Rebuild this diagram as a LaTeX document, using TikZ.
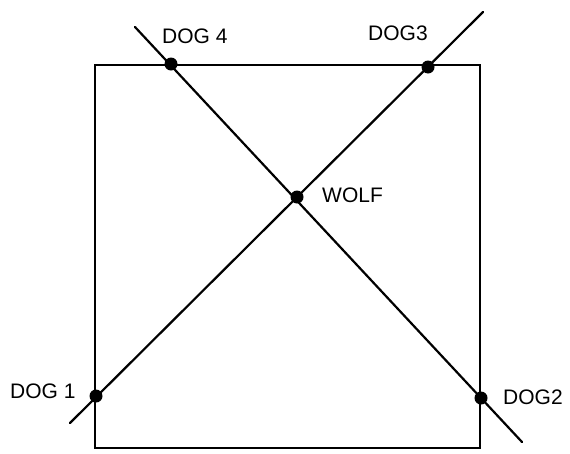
\documentclass[tikz,border=0pt]{standalone}
\usepackage{fontspec}
\setmainfont{Liberation Sans}
\begin{document}
\begin{tikzpicture}[x=1pt,y=-1pt,
  dot/.style={circle,fill=black,inner sep=0pt,minimum size=13pt},
  lbl/.style={font=\fontsize{21}{25}\selectfont,inner sep=0pt},
  edge/.style={line width=2.2pt,line cap=round},
  frame/.style={line width=2pt}]
\useasboundingbox (0,0) rectangle (570,453);
% square
\coordinate (tl) at (95,65);
\coordinate (br) at (480,448);
\draw[frame] (tl) rectangle (br);
% diagonal line ends
\coordinate (a1) at (135,27);
\coordinate (a2) at (522,442);
\coordinate (b1) at (70,423);
\coordinate (b2) at (483,12);
\draw[edge] (a1) -- (a2);
\draw[edge] (b1) -- (b2);
% dots
\node[dot] (dog4) at (171,64) {};
\node[dot] (dog3) at (428,67) {};
\node[dot] (wolf) at (297,197) {};
\node[dot] (dog1) at (96,396) {};
\node[dot] (dog2) at (481,398) {};
% labels
\node[lbl,anchor=west] (l4) at (162,36) {DOG 4};
\node[lbl,anchor=west] (l3) at (368,33) {DOG3};
\node[lbl,anchor=west] (lw) at (322,195) {WOLF};
\node[lbl,anchor=west] (l1) at (10,391) {DOG 1};
\node[lbl,anchor=west] (l2) at (503,397) {DOG2};
\end{tikzpicture}
\end{document}
